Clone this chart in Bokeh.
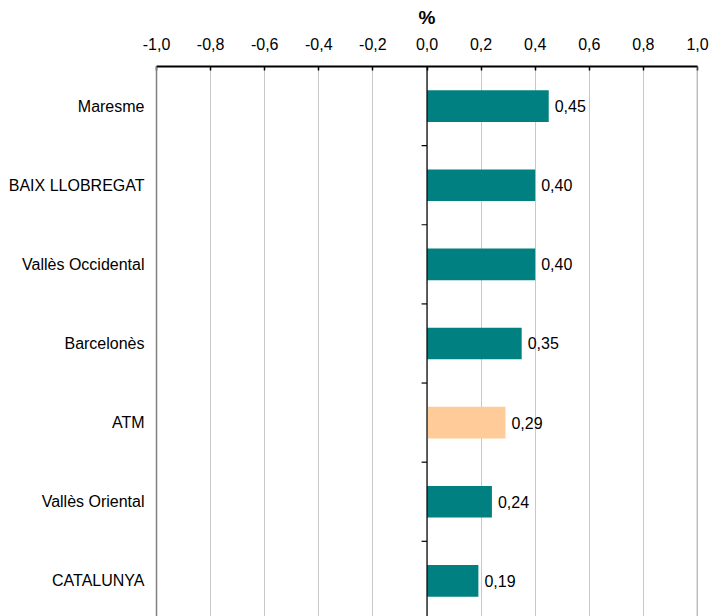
from bokeh.plotting import figure
from bokeh.models import LinearAxis, FixedTicker, Span, ColumnDataSource, Range1d
from bokeh.core.properties import value
from bokeh.embed import file_html
from bokeh.resources import INLINE

categories = ["Maresme", "BAIX LLOBREGAT", "Vallès Occidental", "Barcelonès",
              "ATM", "Vallès Oriental", "CATALUNYA"]
values = [0.45, 0.40, 0.40, 0.35, 0.29, 0.24, 0.19]
highlight = "ATM"
x_ticks = [-1.0, -0.8, -0.6, -0.4, -0.2, 0.0, 0.2, 0.4, 0.6, 0.8, 1.0]
x_tick_labels = ["-1,0", "-0,8", "-0,6", "-0,4", "-0,2", "0,0", "0,2", "0,4", "0,6", "0,8", "1,0"]
axis_title = "%"

n = len(categories)
centers = [n - 1 - i + 0.5 for i in range(n)]
colors = ["#FFCC99" if c == highlight else "#008080" for c in categories]
labels = [f"{v:.2f}".replace(".", ",") for v in values]

src = ColumnDataSource(dict(y=centers, v=values, c=colors, lab=labels))

FONT = "Liberation Sans"

p = figure(width=712, height=616, output_backend="svg", toolbar_location=None,
           x_range=Range1d(-1.0, 1.0), y_range=Range1d(0.05, n),
           x_axis_location=None, y_axis_location=None,
           min_border_left=156, min_border_right=15, min_border_top=66, min_border_bottom=0)
p.outline_line_color = None
p.background_fill_color = "white"
p.border_fill_color = "white"

# top axis
xa = LinearAxis(ticker=FixedTicker(ticks=x_ticks),
                major_label_overrides={t: l for t, l in zip(x_ticks, x_tick_labels)})
xa.axis_label = axis_title
xa.axis_label_text_font = FONT
xa.axis_label_text_font_style = "bold"
xa.axis_label_text_font_size = "19px"
xa.axis_label_text_color = "black"
xa.axis_label_standoff = 7
xa.major_label_text_font = FONT
xa.major_label_text_font_size = "16px"
xa.major_label_text_color = "black"
xa.major_label_standoff = 17
xa.major_tick_in = 4
xa.major_tick_out = 0
xa.minor_tick_line_color = None
xa.axis_line_color = "black"
xa.axis_line_width = 2
xa.major_tick_line_color = "black"
xa.major_tick_line_width = 1.5
p.add_layout(xa, "above")

# left axis with category labels
ya = LinearAxis(ticker=FixedTicker(ticks=centers),
                major_label_overrides={cy: c for cy, c in zip(centers, categories)})
ya.major_label_text_font = FONT
ya.major_label_text_font_size = "16px"
ya.major_label_text_color = "black"
ya.major_label_standoff = 12
ya.major_tick_in = 0
ya.major_tick_out = 0
ya.minor_tick_line_color = None
ya.major_tick_line_color = None
ya.axis_line_color = "#808080"
ya.axis_line_width = 1.5
p.add_layout(ya, "left")

# grid
p.xgrid.ticker = FixedTicker(ticks=x_ticks)
p.xgrid.grid_line_color = "#c8c8c8"
p.xgrid.grid_line_width = 1
p.ygrid.grid_line_color = None

p.add_layout(Span(location=1.0, dimension="height", line_color="#808080", line_width=1.5))

# bars
p.hbar(y="y", right="v", left=0, height=0.4, fill_color="c", line_color=None, source=src)

# zero line and separator ticks
p.add_layout(Span(location=0.0, dimension="height", line_color="black", line_width=1.2))
bounds = list(range(1, n))
p.segment(x0=[-0.02] * len(bounds), x1=[0.0] * len(bounds), y0=bounds, y1=bounds,
          line_color="black", line_width=1.2)

# value labels
p.text(x="v", y="y", text="lab", source=src, x_offset=6, text_baseline="middle",
       text_align="left", text_font_size="16px", text_color="black", text_font=value(FONT))

open("out.html", "w").write(file_html(p, INLINE))
